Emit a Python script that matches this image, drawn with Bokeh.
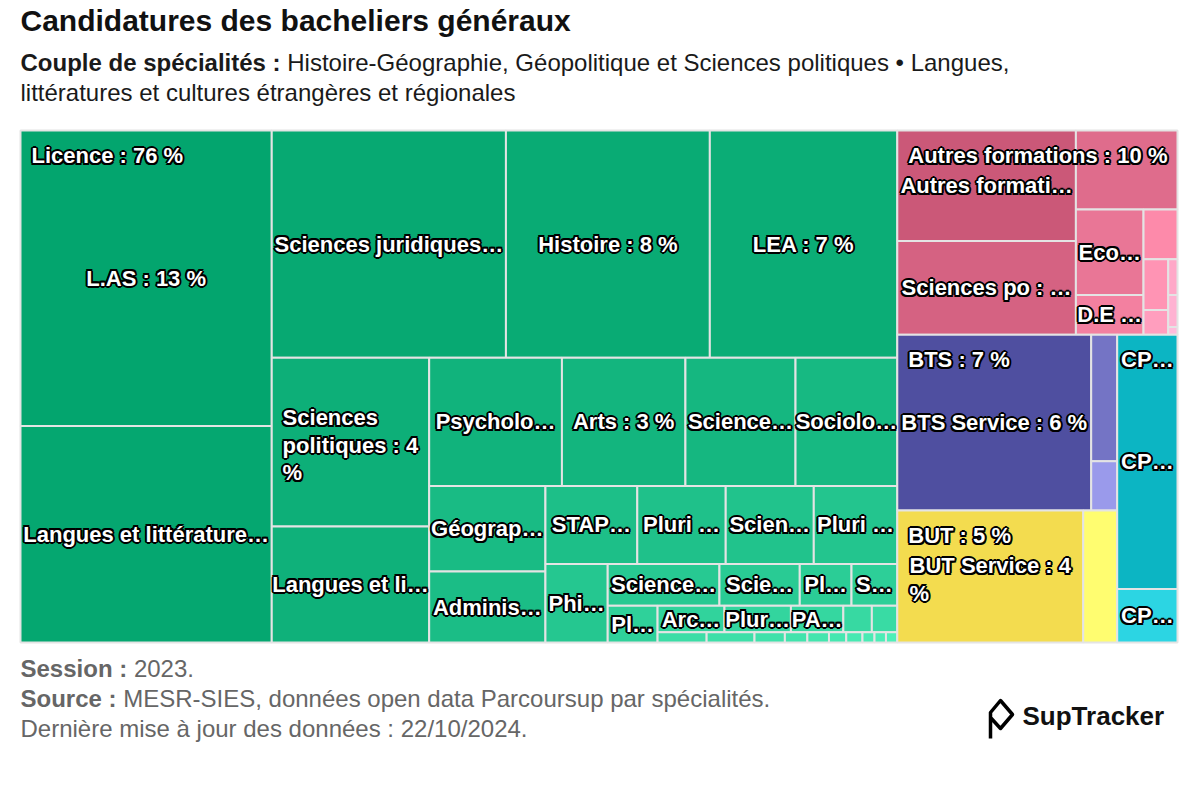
import math
from bokeh.plotting import figure
from bokeh.models import Range1d, ColumnDataSource
from bokeh.embed import file_html
from bokeh.resources import INLINE
from bokeh.core.properties import value

FONT = "Liberation Sans"

# ---------------- texts ----------------
title = "Candidatures des bacheliers généraux"
subtitle_bold = "Couple de spécialités :"
subtitle_rest = "Histoire-Géographie, Géopolitique et Sciences politiques • Langues,"
subtitle_line2 = "littératures et cultures étrangères et régionales"
footer_bold = ["Session :", "Source :", ""]
footer_rest = ["2023.", "MESR-SIES, données open data Parcoursup par spécialités.",
               "Dernière mise à jour des données : 22/10/2024."]
brand = "SupTracker"

# ---------------- data (share of applications, %) ----------------
group_labels = ["Licence : {p} %", "Autres formations : {p} %", "BTS : {p} %", "BUT : {p} %", "CP…"]
group_colors = ["#03a56e", "#cb5878", "#4f4fa0", "#f3dc4f", "#0cb5c3"]
group_variation = [0.30, 0.43, 0.44, 0.26, 0.25]

licence_labels = ["L.AS : {p} %", "Langues et littérature…", "Sciences juridiques…", "Histoire : {p} %",
                  "LEA : {p} %", "Sciences\npolitiques : {p}\n%", "Langues et li…", "Psycholo…",
                  "Arts : {p} %", "Science…", "Sociolo…", "Géograp…", "Adminis…", "STAP…", "Pluri …",
                  "Scien…", "Pluri …", "Phi…", "Science…", "Scie…", "Pl…", "S…", "Pl…", "Arc…",
                  "Plur…", "PA…", "", "", "", "", "", "", "", "", "", "", "", ""]
licence_values = [12.52, 9.17, 8.97, 7.81, 7.18, 4.48, 3.08, 2.87, 2.67, 2.38, 2.20, 1.68, 1.39,
                  1.21, 1.165, 1.16, 1.10, 0.824, 0.786, 0.565, 0.364, 0.322, 0.309, 0.30, 0.298,
                  0.235, 0.128, 0.114, 0.084, 0.082, 0.052, 0.0385, 0.037, 0.0296, 0.0278, 0.0206,
                  0.0196, 0.0194]

autres_labels = ["Autres formati…", "Sciences po : …", "", "Eco…", "D.E …", "", "", "", "", "", ""]
autres_values = [3.33, 2.82, 1.355, 0.973, 0.454, 0.284, 0.212, 0.103, 0.056, 0.050, 0.012]

bts_labels = ["BTS Service : {p} %", "", ""]
bts_values = [5.75, 0.555, 0.216]

but_labels = ["BUT Service : {p}\n%", ""]
but_values = [4.135, 0.756]

cpge_labels = ["CP…", "CP…"]
cpge_values = [2.585, 0.544]

leaf_labels = [licence_labels, autres_labels, bts_labels, but_labels, cpge_labels]
leaf_values = [licence_values, autres_values, bts_values, but_values, cpge_values]

# ---------------- helpers ----------------
NaN = float("nan")

def _div(a, b):
    if b == 0 or math.isnan(a) or math.isnan(b):
        return NaN
    return a / b

def _ratio(w, h):
    if math.isnan(w) or math.isnan(h) or w == 0 or h == 0:
        return NaN
    return max(w / h, h / w)

class Group:
    def __init__(self, h, w, d, plot):
        self.height, self.width, self.direction, self.plot = h, w, d, plot
        self.total = 0.0
        self.nW = self.lW = self.nH = self.lH = 0.0
        self.el = []
        self.lp = {"total": NaN, "lH": 0.0, "nH": 0.0, "lW": 0.0, "nW": 0.0, "nR": 0.0, "lR": 0.0}

    def add(self, e):
        lp = self.lp
        lp["total"] = self.el[-1] if self.el else NaN
        self.total += e
        if self.direction == 0:
            self.lW = self.nW
            lp["lH"] = _div(lp["total"], self.lW)
            lp["lR"] = _ratio(self.lW, lp["lH"])
            self.nW = self.total / self.height
            lp["nH"] = _div(lp["total"], self.nW)
            lp["nR"] = _ratio(self.nW, lp["nH"])
        else:
            self.lH = self.nH
            lp["lW"] = _div(lp["total"], self.lH)
            lp["lR"] = _ratio(lp["lW"], self.lH)
            self.nH = self.total / self.width
            lp["nW"] = _div(lp["total"], self.nH)
            lp["nR"] = _ratio(lp["nW"], self.nH)
        self.el.append(e)

    def reset(self):
        self.nW = self.lW = 0.0
        self.el = []
        self.total = 0.0

def _calc_points(last, g, parent, out):
    gW, gH = g.lW, g.lH
    end = len(g.el) - 1
    keep = None
    if last:
        gW, gH = g.nW, g.nH
    else:
        keep = g.el[end]
    for i, a in enumerate(g.el):
        if last or i < end:
            if g.direction == 0:
                w = gW
                h = a / w
            else:
                h = gH
                w = a / h
            out.append((g.plot["x"], g.plot["y"], w, h))
            if g.direction == 0:
                g.plot["y"] += h
            else:
                g.plot["x"] += w
    g.reset()
    if g.direction == 0:
        g.width -= gW
    else:
        g.height -= gH
    g.plot["y"] = parent["y"] + (parent["height"] - g.height)
    g.plot["x"] = parent["x"] + (parent["width"] - g.width)
    g.direction = 1 - g.direction
    if not last:
        g.add(keep)

def squarify(parent, vals):
    """Squarified layout (low aspect ratio, alternating direction)."""
    out = []
    plot = {"x": parent["x"], "y": parent["y"]}
    g = Group(parent["height"], parent["width"], 0, plot)
    tot = sum(vals)
    for i, v in enumerate(vals):
        g.add(parent["width"] * parent["height"] * v / tot)
        if g.lp["nR"] > g.lp["lR"]:
            _calc_points(False, g, parent, out)
        if i == len(vals) - 1:
            _calc_points(True, g, parent, out)
    return out

def brighten(hexcol, a):
    r, gg, b = int(hexcol[1:3], 16), int(hexcol[3:5], 16), int(hexcol[5:7], 16)
    d = round(255 * a)
    return "#%02x%02x%02x" % tuple(max(0, min(255, c + d)) for c in (r, gg, b))

def pct(v, total):
    return int(math.floor(v / total * 100 + 0.5))

BOLD_W = {" ": 278, "%": 889, ":": 333, ".": 278, ",": 278, "-": 333, "…": 1000,
          "A": 722, "B": 722, "C": 722, "D": 722, "E": 667, "G": 778, "H": 722, "L": 611,
          "P": 667, "S": 667, "T": 611, "U": 722,
          "a": 556, "b": 611, "c": 556, "d": 611, "e": 556, "é": 556, "f": 333, "g": 611,
          "h": 611, "i": 278, "j": 278, "k": 556, "l": 278, "m": 889, "n": 611, "o": 611,
          "p": 611, "q": 611, "r": 389, "s": 556, "t": 333, "u": 611, "v": 556, "x": 556,
          "y": 556}
for _d in "0123456789":
    BOLD_W[_d] = 556

def bold_width(s, size):
    return sum(BOLD_W.get(c, 600) for c in s) * size / 1000.0

# ---------------- figure ----------------
W, H = 1184, 784
p = figure(width=W, height=H, x_range=Range1d(0, W), y_range=Range1d(H, 0),
           output_backend="svg", toolbar_location=None, min_border=0,
           x_axis_location=None, y_axis_location=None)
p.grid.visible = False
p.outline_line_color = None
p.background_fill_color = "white"
p.border_fill_color = "white"

# plot area of the treemap
AREA = {"x": 20.0, "y": 130.0, "width": 1157.0, "height": 512.0}

group_vals = [sum(v) for v in leaf_values]
grand = sum(group_vals)
group_rects = squarify(AREA, group_vals)

cells = dict(l=[], r=[], t=[], b=[], c=[])
leaf_center = dict(x=[], y=[], t=[])
leaf_left = dict(x=[], y=[], t=[])
grp_left = dict(x=[], y=[], t=[])
grp_center = dict(x=[], y=[], t=[])

for gi, (gx, gy, gw, gh) in enumerate(group_rects):
    vals = leaf_values[gi]
    rects = squarify({"x": gx, "y": gy, "width": gw, "height": gh}, vals)
    n = len(vals)
    for li, (x, y, w, h) in enumerate(rects):
        cells["l"].append(x); cells["r"].append(x + w)
        cells["t"].append(y); cells["b"].append(y + h)
        cells["c"].append(brighten(group_colors[gi], group_variation[gi] * li / n))
        lab = leaf_labels[gi][li]
        if lab:
            lab = lab.replace("{p}", str(pct(vals[li], grand)))
            cx, cy = x + w / 2, y + h / 2
            if "\n" in lab:
                bw = max(bold_width(s, 22) for s in lab.split("\n"))
                leaf_left["x"].append(cx - bw / 2); leaf_left["y"].append(cy + 3)
                leaf_left["t"].append(lab)
            else:
                leaf_center["x"].append(cx); leaf_center["y"].append(cy)
                leaf_center["t"].append(lab)
    glab = group_labels[gi].replace("{p}", str(pct(group_vals[gi], grand)))
    if "…" in glab:
        grp_center["x"].append(gx + gw / 2); grp_center["y"].append(gy + 25)
        grp_center["t"].append(glab)
    else:
        grp_left["x"].append(gx + 11); grp_left["y"].append(gy + 25)
        grp_left["t"].append(glab)

p.quad(left="l", right="r", top="t", bottom="b", fill_color="c", line_color="#e4e4e4",
       line_width=2, source=ColumnDataSource(cells))

OFFS = [(-2, 0), (2, 0), (0, -2), (0, 2), (-1.5, -1.5), (1.5, 1.5), (-1.5, 1.5), (1.5, -1.5)]

def outlined(data, align):
    if not data["x"]:
        return
    src = ColumnDataSource(data)
    kw = dict(text_font=value(FONT), text_font_size="22px", text_font_style="bold",
              text_align=align, text_baseline="middle", text_line_height=1.1)
    for dx, dy in OFFS:
        p.text("x", "y", text="t", source=src, text_color="black", x_offset=dx, y_offset=dy, **kw)
    p.text("x", "y", text="t", source=src, text_color="white", **kw)

outlined(leaf_center, "center")
outlined(leaf_left, "left")
outlined(grp_left, "left")
outlined(grp_center, "center")

# ---------------- title, subtitle, footer ----------------
def plain(x, y, s, size, style, color, align="left", baseline="middle"):
    p.text(x=[x], y=[y], text=[s], text_font=value(FONT), text_font_size=size,
           text_font_style=style, text_color=color, text_align=align, text_baseline=baseline)

plain(20, 20, title, "30px", "bold", "#111111")
plain(20, 62, subtitle_bold, "24px", "bold", "#1a1a1a")
plain(20 + bold_width(subtitle_bold + " ", 24), 62, subtitle_rest, "24px", "normal", "#1a1a1a")
plain(20, 92, subtitle_line2, "24px", "normal", "#1a1a1a")

for k in range(3):
    yc = 668 + 30 * k
    xs = 20
    if footer_bold[k]:
        plain(xs, yc, footer_bold[k], "24px", "bold", "#666666")
        xs += bold_width(footer_bold[k] + " ", 24)
    plain(xs, yc, footer_rest[k], "24px", "normal", "#666666")

# brand logo
p.line(x=[990, 990, 1000, 1012, 1000, 990], y=[738, 712, 700, 714, 728, 717],
       line_color="black", line_width=3.5, line_join="round")
plain(1022, 715, brand, "26px", "bold", "#111111")

open("out.html", "w").write(file_html(p, INLINE))
